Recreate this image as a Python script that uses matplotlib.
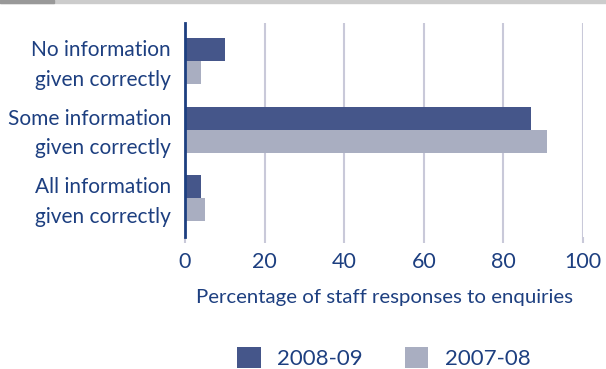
import matplotlib.pyplot as plt
import matplotlib.transforms as mtransforms
import numpy as np
from matplotlib.patches import Rectangle

categories = ["No information\ngiven correctly",
              "Some information\ngiven correctly",
              "All information\ngiven correctly"]
series_names = ["2008-09", "2007-08"]
values_0809 = [10, 87, 4]
values_0708 = [4, 91, 5]
x_ticks = [0, 20, 40, 60, 80, 100]

DARK = "#45568a"
LIGHT = "#a9aec1"
TEXT = "#1d3f80"
GRID = "#c9c9d9"

plt.rcParams["font.family"] = ["Lato", "DejaVu Sans"]

fig = plt.figure(figsize=(6.06, 3.69), dpi=100)
ax = fig.add_axes([185 / 606, 1 - 237 / 369, 398 / 606, 214 / 369])

y = np.arange(len(categories))
h = 0.336
ax.barh(y - h / 2, values_0809, height=h, color=DARK, label=series_names[0], zorder=3)
ax.barh(y + h / 2, values_0708, height=h, color=LIGHT, label=series_names[1], zorder=3)

ax.set_xlim(0, 100)
ax.set_ylim(2.57, -0.56)
ax.set_xticks(x_ticks)
ax.set_yticks(y)
ax.set_yticklabels(categories, fontsize=15, color=TEXT, linespacing=1.6)
ax.tick_params(axis="y", length=0, pad=10)
ax.tick_params(axis="x", length=4, width=1.5, color=GRID, labelsize=15.5,
               labelcolor=TEXT, pad=7)
ax.xaxis.get_major_ticks()[0].tick1line.set_color(TEXT)
ax.grid(axis="x", color=GRID, linewidth=1.5, zorder=0)

# nudge category labels up a little
lift = mtransforms.ScaledTranslation(0, 3 / 100, fig.dpi_scale_trans)
for lbl in ax.get_yticklabels():
    lbl.set_transform(lbl.get_transform() + lift)

for side in ["top", "right", "bottom"]:
    ax.spines[side].set_visible(False)
ax.spines["left"].set_color(TEXT)
ax.spines["left"].set_linewidth(2)
ax.spines["left"].set_zorder(4)

ax.set_xlabel("Percentage of staff responses to enquiries", fontsize=14.7,
              color=TEXT, labelpad=12)

leg = fig.legend(loc="center", bbox_to_anchor=(384 / 606, 1 - 358 / 369), ncol=2,
                 frameon=False, fontsize=16, labelcolor=TEXT,
                 handlelength=1.05, handleheight=1.05, columnspacing=1.9,
                 handletextpad=0.75, borderpad=0, borderaxespad=0)

# thin header strip along the top edge
fig.patches.append(Rectangle((0, 1 - 3 / 369), 1, 3 / 369, transform=fig.transFigure,
                             color="#cccccc", zorder=0))
fig.patches.append(Rectangle((0, 1 - 3 / 369), 54 / 606, 3 / 369,
                             transform=fig.transFigure, color="#999999", zorder=1))

fig.savefig("out.png", dpi=100)
